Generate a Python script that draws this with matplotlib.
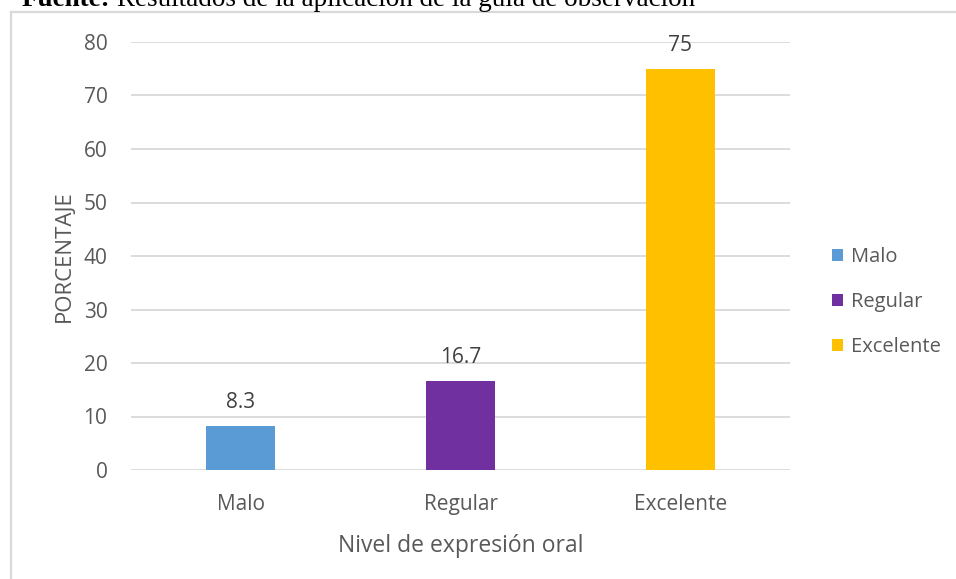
import matplotlib.pyplot as plt
from matplotlib.lines import Line2D
from matplotlib.patches import Patch

categories = ["Malo", "Regular", "Excelente"]
percentages = [8.3, 16.7, 75]
value_labels = ["8.3", "16.7", "75"]
colors = ["#5B9BD5", "#7030A0", "#FFC000"]
yticks = [0, 10, 20, 30, 40, 50, 60, 70, 80]

plt.rcParams["font.family"] = ["Open Sans", "DejaVu Sans"]

W, H = 956, 579
fig = plt.figure(figsize=(W / 100, H / 100), dpi=100)

# chart frame (only top and left edges visible in the crop)
fig.add_artist(Line2D([11 / W, 11 / W], [0, 1 - 12 / H], transform=fig.transFigure,
                      color="#d9d9d9", lw=1.6))
fig.add_artist(Line2D([11 / W, 1], [1 - 12 / H, 1 - 12 / H], transform=fig.transFigure,
                      color="#d9d9d9", lw=1.6))

# clipped caption above the chart
fig.text(22 / W, 1 - 6 / H, "Fuente:", fontsize=19.5, fontweight="bold",
         family="Liberation Serif", va="baseline", ha="left")
fig.text(117 / W, 1 - 6 / H, "Resultados de la aplicación de la guía de observación",
         fontsize=19.5, family="Liberation Serif", va="baseline", ha="left")

ax = fig.add_axes([131 / W, 1 - 470 / H, (790 - 131) / W, (470 - 42) / H])
x = range(len(categories))
ax.bar(x, percentages, width=0.314, color=colors, zorder=3)

for xi, v, lab in zip(x, percentages, value_labels):
    ax.text(xi, v + 2.4, lab, ha="center", va="bottom", fontsize=15, color="#404040")

ax.set_xlim(-0.5, 2.5)
ax.set_ylim(0, 80)
ax.set_yticks(yticks)
ax.set_xticks(list(x))
ax.set_xticklabels(categories)
ax.grid(axis="y", color="#d9d9d9", lw=1.3, zorder=0)
ax.tick_params(axis="both", length=0, labelsize=15, labelcolor="#595959")
ax.tick_params(axis="y", pad=17)
ax.tick_params(axis="x", pad=17)
for s in ax.spines.values():
    s.set_visible(False)

ax.set_xlabel("Nivel de expresión oral", fontsize=16.5, color="#595959", labelpad=14)
ax.set_ylabel("PORCENTAJE", fontsize=16, color="#595959", labelpad=6)

handles = [Patch(facecolor=c) for c in colors]
fig.legend(handles, categories, loc="center left", bbox_to_anchor=(814 / W, 1 - 302 / H),
           frameon=False, fontsize=14.5, labelcolor="#595959", handlelength=0.55,
           handleheight=0.55, handletextpad=0.4, labelspacing=1.25)

fig.savefig("out.png", dpi=100)
